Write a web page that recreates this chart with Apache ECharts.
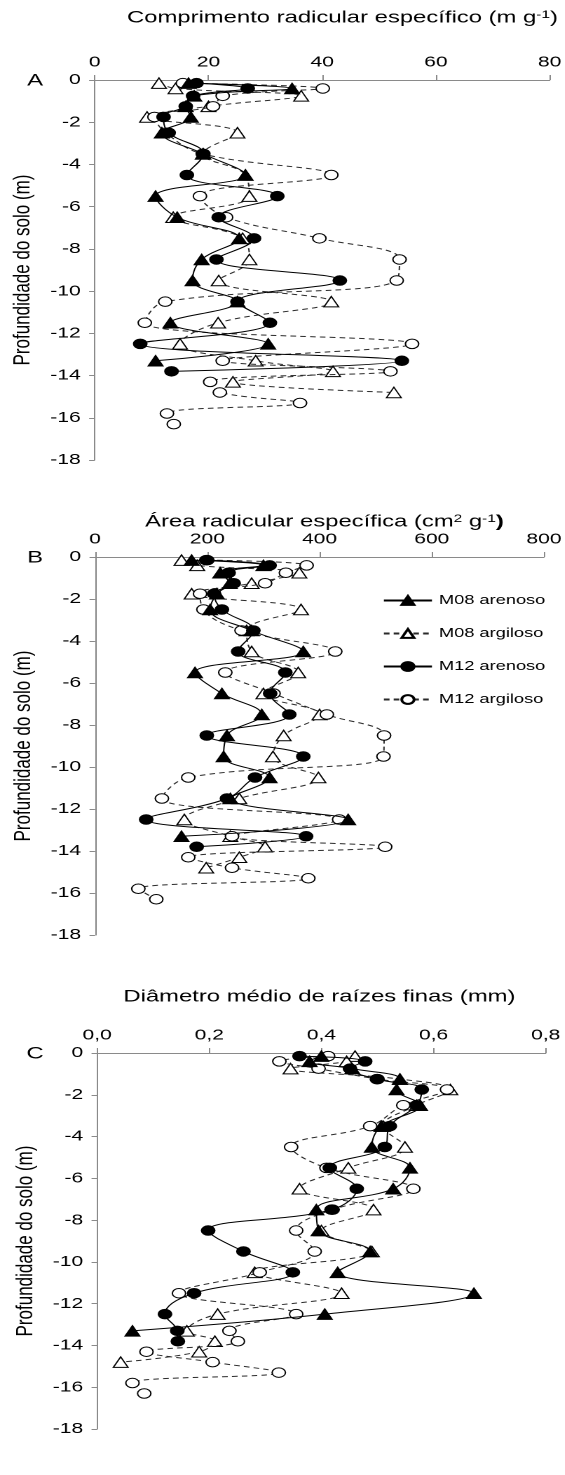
<!DOCTYPE html>
<html>
<head>
<meta charset="utf-8">
<script src="https://cdn.jsdelivr.net/npm/echarts@6/dist/echarts.min.js"></script>
<style>
  html, body { margin: 0; padding: 0; background: #fff; overflow: hidden; }
  #wrap { width: 565px; height: 1475px; overflow: hidden; position: relative; }
  #chart { height: 1475px; transform-origin: 0 0; }
</style>
</head>
<body>
<div id="wrap"><div id="chart"></div></div>
<script>
// Sampling depths (m), shared by all profiles; each series uses the first N levels
const depthLevels = [-0.15, -0.4, -0.75, -1.25, -1.75, -2.5, -3.5, -4.5, -5.5, -6.5, -7.5, -8.5,
  -9.5, -10.5, -11.5, -12.5, -13.3, -13.8, -14.3, -14.8, -15.3, -15.8, -16.3];

const seriesNames = ['M08 arenoso', 'M08 argiloso', 'M12 arenoso', 'M12 argiloso'];

// A: specific root length (m g-1)
const srlM08Arenoso  = [16.5, 34.7, 17.5, 16.0, 16.9, 11.8, 19.1, 26.5, 10.7, 14.5, 25.4, 18.8, 17.2, 25.1, 13.3, 30.5, 10.7];
const srlM08Argiloso = [11.3, 14.2, 36.3, 20.0, 9.2, 25.1, 19.0, 26.5, 27.2, 13.8, 26.0, 27.2, 21.8, 41.6, 21.7, 15.0, 28.3, 41.9, 24.3, 52.6];
const srlM12Arenoso  = [17.9, 26.9, 17.3, 16.0, 12.1, 13.0, 19.1, 16.2, 32.1, 21.8, 28.0, 21.4, 43.1, 25.1, 30.8, 8.0, 54.0, 13.5];
const srlM12Argiloso = [15.5, 40.1, 22.5, 20.8, 10.5, 12.5, 19.0, 41.6, 18.5, 23.1, 39.5, 53.6, 53.1, 12.4, 8.8, 55.8, 22.5, 52.0, 20.3, 22.0, 36.1, 12.7, 13.9];

// B: specific root area (cm2 g-1)
const sraM08Arenoso  = [172, 300, 223, 240, 217, 205, 279, 371, 178, 226, 297, 235, 229, 311, 241, 451, 154];
const sraM08Argiloso = [154, 182, 364, 279, 172, 367, 270, 279, 362, 300, 400, 336, 317, 398, 257, 159, 241, 303, 257, 198];
const sraM12Arenoso  = [198, 311, 238, 247, 212, 226, 282, 255, 339, 312, 346, 199, 371, 285, 235, 91, 376, 181];
const sraM12Argiloso = [200, 377, 340, 303, 187, 193, 261, 428, 232, 318, 413, 515, 514, 166, 119, 435, 244, 517, 166, 244, 380, 77, 109];

// C: mean fine-root diameter (mm)
const diaM08Arenoso  = [0.400, 0.379, 0.455, 0.540, 0.534, 0.576, 0.507, 0.490, 0.558, 0.528, 0.391, 0.395, 0.487, 0.429, 0.672, 0.406, 0.063];
const diaM08Argiloso = [0.460, 0.445, 0.345, 0.540, 0.630, 0.570, 0.510, 0.549, 0.448, 0.361, 0.493, 0.400, 0.490, 0.281, 0.436, 0.215, 0.160, 0.210, 0.182, 0.042];
const diaM12Arenoso  = [0.361, 0.478, 0.451, 0.499, 0.579, 0.570, 0.522, 0.513, 0.415, 0.463, 0.418, 0.198, 0.261, 0.349, 0.173, 0.121, 0.143, 0.144];
const diaM12Argiloso = [0.412, 0.325, 0.395, 0.500, 0.624, 0.546, 0.487, 0.346, 0.409, 0.564, 0.420, 0.355, 0.388, 0.290, 0.146, 0.355, 0.236, 0.251, 0.088, 0.206, 0.324, 0.063, 0.084];

// Axis ticks per panel
const xTicksA = { min: 0, max: 80, interval: 20 };
const xTicksB = { min: 0, max: 800, interval: 200 };
const xTicksC = { min: 0, max: 0.8, interval: 0.2 };
const depthTicks = { min: -18, max: 0, interval: 2 };

const panelTitles = ['Comprimento radicular específico (m g{sup|-1})',
                     'Área radicular específica (cm{sup|2} g{sup|-1}{b|)}',
                     'Diâmetro médio de raízes finas (mm)'];
const panelLetters = ['A', 'B', 'C'];
const depthTitle = 'Profundidade do solo (m)';

// The figure is drawn in a narrower box and widened horizontally
const SX = 1.4;
const PAGE_W = 565;
const chartW = PAGE_W / SX;
const el = document.getElementById('chart');
el.style.width = chartW + 'px';
el.style.transform = 'scaleX(' + SX + ')';
const px = v => v / SX;

const FONT = '"Liberation Sans", Arial, sans-serif';
const AXIS_COLOR = '#8a8a8a';

const profile = vals => vals.map((v, i) => [v, depthLevels[i]]);

const gridBoxes = [
  { left: px(87), top: 80,   width: px(549 - 87), height: 380 },
  { left: px(95), top: 557,  width: px(544 - 95), height: 378 },
  { left: px(97), top: 1053, width: px(545 - 97), height: 376 }
];
const titleY = [18, 522, 997];
const titleX = [342, 324, 319];

function xAxisFor(idx, ticks, fmt) {
  return {
    type: 'value', gridIndex: idx, position: 'top',
    min: ticks.min, max: ticks.max, interval: ticks.interval,
    axisLine: { show: true, lineStyle: { color: AXIS_COLOR, width: 1 } },
    axisTick: { show: true, inside: false, length: 5, lineStyle: { color: AXIS_COLOR } },
    splitLine: { show: false },
    axisLabel: { color: '#000', fontSize: 15, fontFamily: FONT, margin: 10, formatter: fmt }
  };
}
function yAxisFor(idx) {
  return {
    type: 'value', gridIndex: idx,
    min: depthTicks.min, max: depthTicks.max, interval: depthTicks.interval,
    axisLine: { show: true, onZero: false, lineStyle: { color: AXIS_COLOR, width: 1 } },
    axisTick: { show: true, inside: false, length: 4, lineStyle: { color: AXIS_COLOR } },
    splitLine: { show: false },
    axisLabel: { color: '#000', fontSize: 15, fontFamily: FONT, margin: 10 },
    name: depthTitle, nameLocation: 'middle', nameGap: 38, nameRotate: 90,
    nameTextStyle: { color: '#000', fontSize: 17, fontFamily: FONT }
  };
}

const styleFor = {
  'M08 arenoso':  { symbol: 'triangle', fill: '#000', dash: 'solid', z: 4 },
  'M08 argiloso': { symbol: 'triangle', fill: '#fff', dash: [4, 3], z: 2 },
  'M12 arenoso':  { symbol: 'circle',   fill: '#000', dash: 'solid', z: 5 },
  'M12 argiloso': { symbol: 'circle',   fill: '#fff', dash: [4, 3], z: 3 }
};

function lineSeries(name, idx, vals) {
  const s = styleFor[name];
  return {
    type: 'line', name, xAxisIndex: idx, yAxisIndex: idx,
    data: profile(vals), smooth: 0.4, z: s.z,
    symbol: s.symbol, symbolSize: s.symbol === 'triangle' ? 10.5 : 9.5,
    showSymbol: true, clip: false,
    lineStyle: { color: s.dash === 'solid' ? '#000' : '#2a2a2a', width: 1, type: s.dash },
    itemStyle: { color: s.fill, borderColor: '#000', borderWidth: 1, opacity: 1 },
    emphasis: { disabled: true }
  };
}

const panels = [
  [srlM08Arenoso, srlM08Argiloso, srlM12Arenoso, srlM12Argiloso],
  [sraM08Arenoso, sraM08Argiloso, sraM12Arenoso, sraM12Argiloso],
  [diaM08Arenoso, diaM08Argiloso, diaM12Arenoso, diaM12Argiloso]
];

const series = [];
panels.forEach((p, idx) => p.forEach((vals, k) => series.push(lineSeries(seriesNames[k], idx, vals))));

const graphic = [];
panelTitles.forEach((t, i) => {
  graphic.push({
    type: 'text', x: px(titleX[i]), y: titleY[i],
    style: {
      text: t, fill: '#000', font: '17px ' + FONT, align: 'center', verticalAlign: 'middle',
      rich: {
        sup: { fontSize: 11, fontFamily: FONT, verticalAlign: 'top', fill: '#000' },
        b: { fontSize: 17, fontFamily: FONT, fontWeight: 'bold', fill: '#000' }
      }
    }
  });
  graphic.push({
    type: 'text', x: px(35), y: gridBoxes[i].top + 1,
    style: { text: panelLetters[i], fill: '#000', font: '17px ' + FONT, align: 'center', verticalAlign: 'middle' }
  });
});

const chart = echarts.init(el, null, { renderer: 'canvas', devicePixelRatio: 2, width: chartW, height: 1475 });
chart.setOption({
  animation: false,
  backgroundColor: '#fff',
  grid: gridBoxes,
  xAxis: [
    xAxisFor(0, xTicksA),
    xAxisFor(1, xTicksB),
    xAxisFor(2, xTicksC, v => v.toFixed(1).replace('.', ','))
  ],
  yAxis: [yAxisFor(0), yAxisFor(1), yAxisFor(2)],
  legend: {
    data: seriesNames, orient: 'vertical', left: px(382), top: 594, padding: 0,
    itemWidth: px(48), itemHeight: 11, itemGap: 20, itemTextGap: 6,
    selectedMode: false,
    textStyle: { color: '#000', fontSize: 13, fontFamily: FONT }
  },
  graphic,
  series
});
</script>
</body>
</html>
